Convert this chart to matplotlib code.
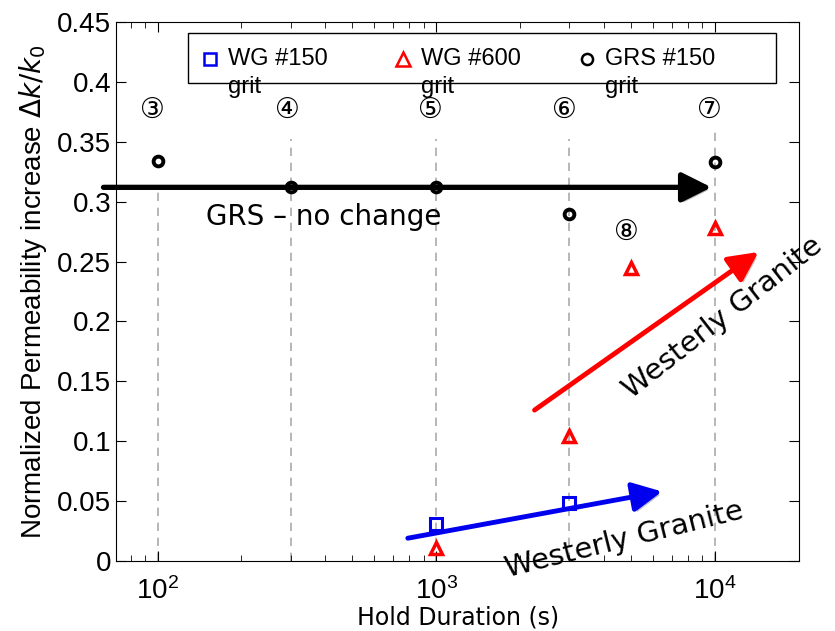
import matplotlib
matplotlib.use("Agg")
import matplotlib.pyplot as plt
import matplotlib.patheffects as pe
from matplotlib.ticker import FuncFormatter, LogLocator
from matplotlib.patches import Rectangle

# datos
hold_grs = [100, 300, 1000, 3000, 10000]
k_grs = [0.334, 0.312, 0.312, 0.290, 0.333]
hold_wg600 = [1000, 3000, 5000, 10000]
k_wg600 = [0.011, 0.104, 0.245, 0.278]
hold_wg150 = [1000, 3000]
k_wg150 = [0.031, 0.048]

# lineas verticales de cada paso y etiquetas
pasos = [100, 300, 1000, 3000, 10000]
pasos_top = [0.31, 0.352, 0.352, 0.352, 0.36]
etiquetas = ["\u2462", "\u2463", "\u2464", "\u2465", "\u2466"]
etiqueta_x = [96, 292, 955, 2870, 9560]
etiqueta_y = 0.377

legend_labels = ["WG #150", "WG #600", "GRS #150"]

W, H = 835, 631
plt.rcParams["font.family"] = ["Liberation Sans", "DejaVu Sans"]
fig = plt.figure(figsize=(W / 100, H / 100), dpi=100)
ax = fig.add_axes([0.139, 0.111, 0.818, 0.854])

for x, top in zip(pasos, pasos_top):
    ax.plot([x, x], [0, top], "--", color="#aaaaaa", lw=1.2, dashes=(5, 4), zorder=1)

sombra = [pe.SimplePatchShadow(offset=(2, -2), alpha=0.25), pe.Normal()]

a = ax.annotate("", xy=(9700, 0.312), xytext=(64, 0.312), annotation_clip=False,
                arrowprops=dict(arrowstyle="-|>,head_length=0.6,head_width=0.3",
                                lw=3.8, color="black", mutation_scale=30, shrinkA=0, shrinkB=0))
a.arrow_patch.set_path_effects(sombra)
a.arrow_patch.set_clip_on(False)
a = ax.annotate("", xy=(14300, 0.258), xytext=(2250, 0.126), annotation_clip=False,
                arrowprops=dict(arrowstyle="-|>,head_length=0.6,head_width=0.3",
                                lw=3.5, color="red", mutation_scale=30, shrinkA=0, shrinkB=0))
a.arrow_patch.set_path_effects(sombra)
a = ax.annotate("", xy=(6450, 0.058), xytext=(790, 0.019), annotation_clip=False,
                arrowprops=dict(arrowstyle="-|>,head_length=0.6,head_width=0.3",
                                lw=3.5, color="#0000ee", mutation_scale=30, shrinkA=0, shrinkB=0))
a.arrow_patch.set_path_effects(sombra)

ax.plot(hold_wg150, k_wg150, "s", mfc="none", mec="#0000ee", mew=2.2, ms=8, zorder=5)
ax.plot(hold_wg600, k_wg600, "^", mfc="none", mec="red", mew=2.5, ms=9, zorder=5)
ax.plot(hold_grs, k_grs, "o", mfc="none", mec="black", mew=2.8, ms=7, zorder=5)

for x, t in zip(etiqueta_x, etiquetas):
    ax.text(x, etiqueta_y, t, ha="center", va="center", fontsize=20,
            family=["DejaVu Sans", "Noto Sans CJK JP"])
ax.text(4790, 0.275, "\u2467", ha="center", va="center", fontsize=20,
        family=["DejaVu Sans", "Noto Sans CJK JP"])

ax.text(395, 0.287, "GRS \u2013 no change", ha="center", va="center", fontsize=20,
        family="DejaVu Sans")
ax.text(10600, 0.203, "Westerly Granite", ha="center", va="center", fontsize=21,
        family="DejaVu Sans", rotation=38, clip_on=False)
ax.text(4720, 0.0175, "Westerly Granite", ha="center", va="center", fontsize=21,
        family="DejaVu Sans", rotation=14, clip_on=False)

ax.set_xscale("log")
ax.set_xlim(71, 20000)
ax.set_ylim(0, 0.45)
ax.set_yticks([i * 0.05 for i in range(10)])
ax.yaxis.set_major_formatter(FuncFormatter(lambda v, p: "%g" % round(v, 2)))
ax.xaxis.set_minor_locator(LogLocator(base=10, subs=range(2, 10)))
ax.tick_params(which="both", direction="in", top=True, right=True, labelsize=20)
ax.tick_params(which="major", length=7)
ax.tick_params(which="minor", length=4)
ax.tick_params(axis="x", pad=12)

ax.set_xlabel("Hold Duration (s)", fontsize=17, family="DejaVu Sans", labelpad=0)
ax.set_ylabel(r"Normalized Permeability increase $\Delta k/k_0$", fontsize=20, labelpad=6)

# leyenda dibujada a mano (el texto "grit" se sale de la caja como en el original)
fig.patches.append(Rectangle((188 / W, 1 - 83 / H), 588 / W, 50 / H, transform=fig.transFigure,
                             fill=True, facecolor="white", edgecolor="black", lw=1.0, zorder=10))
estilos = [dict(marker="s", mec="#0000ee", ms=9), dict(marker="^", mec="red", ms=10),
           dict(marker="o", mec="black", ms=8)]
for px, lab, st in zip([210, 403, 587], legend_labels, estilos):
    fig.add_artist(plt.Line2D([px / W], [1 - 59 / H], ls="none", mfc="none", mew=1.8,
                              transform=fig.transFigure, zorder=11, **st))
    fig.text((px + 18) / W, 1 - 59 / H, lab, fontsize=17, va="center", zorder=12)
    fig.text((px + 18) / W, 1 - 87 / H, "grit", fontsize=17, va="center", zorder=12)

fig.savefig("out.png", dpi=100)
